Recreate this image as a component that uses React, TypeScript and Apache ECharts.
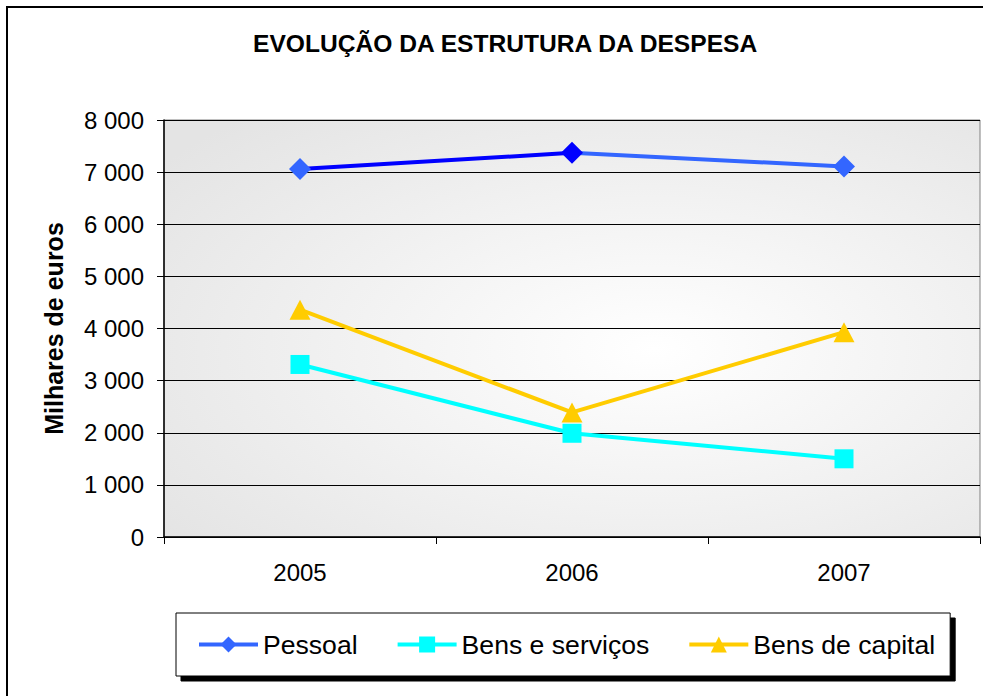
import React, { useEffect, useRef } from "react";
import * as echarts from "echarts";

const categories = ["2005", "2006", "2007"];
const pessoal = [7060, 7370, 7110];
const bensServicos = [3310, 1990, 1500];
const bensCapital = [4360, 2390, 3930];
const seriesNames = ["Pessoal", "Bens e serviços", "Bens de capital"];
const titleText = "EVOLUÇÃO DA ESTRUTURA DA DESPESA";
const yAxisName = "Milhares de euros";

export default function App() {
  const ref = useRef<HTMLDivElement>(null);
  useEffect(() => {
    if (!ref.current) return;
    const chart = echarts.init(ref.current, null, { renderer: "svg" });
    const font = "Arial, 'Liberation Sans', sans-serif";
    const pessoalData = pessoal.map((v, i) => ({
      value: v,
      itemStyle: { color: i === 1 ? "#0000FF" : "#3366FF" },
    }));
    chart.setOption({
      animation: false,
      backgroundColor: "#ffffff",
      textStyle: { fontFamily: font },
      title: {
        text: titleText,
        left: 253,
        top: 31,
        padding: 0,
        textStyle: { fontSize: 24.6, fontWeight: "bold", color: "#000", fontFamily: font },
      },
      graphic: [
        {
          type: "rect",
          z: -10,
          shape: { x: 7, y: 7, width: 1100, height: 1000 },
          style: { fill: "none", stroke: "#000", lineWidth: 2 },
          silent: true,
        },
      ],
      legend: {
        left: 176,
        top: 613,
        orient: "horizontal",
        padding: [18, 15, 18, 21],
        itemWidth: 59,
        itemHeight: 20,
        itemGap: 38,
        borderColor: "#000",
        borderWidth: 1,
        backgroundColor: "#fff",
        shadowColor: "#000",
        shadowBlur: 0,
        shadowOffsetX: 5,
        shadowOffsetY: 5,
        lineStyle: { width: 4 },
        textStyle: { fontSize: 26.6, color: "#000", fontFamily: font },
        data: [
          { name: seriesNames[0], itemStyle: { color: "#3366FF" }, lineStyle: { color: "#3366FF", width: 4 } },
          { name: seriesNames[1] },
          { name: seriesNames[2] },
        ],
      },
      grid: {
        left: 164,
        top: 120,
        right: 3,
        bottom: 159,
        show: true,
        borderColor: "#808080",
        borderWidth: 1,
        backgroundColor: new echarts.graphic.RadialGradient(0.6, 0.55, 0.75, [
          { offset: 0, color: "#ffffff" },
          { offset: 1, color: "#e4e4e4" },
        ]),
      },
      xAxis: {
        type: "category",
        data: categories,
        boundaryGap: true,
        axisLine: { show: true, lineStyle: { color: "#000", width: 1.5 } },
        axisTick: { show: true, length: 7, lineStyle: { color: "#000" } },
        axisLabel: { fontSize: 24, color: "#000", margin: 23, fontFamily: font },
        splitLine: { show: false },
      },
      yAxis: {
        type: "value",
        min: 0,
        max: 8000,
        interval: 1000,
        name: yAxisName,
        nameLocation: "middle",
        nameRotate: 90,
        nameGap: 98,
        nameTextStyle: { fontSize: 25, fontWeight: "bold", color: "#000", fontFamily: font },
        axisLine: { show: true, lineStyle: { color: "#000", width: 1.5 } },
        axisTick: { show: true, length: 7, lineStyle: { color: "#000" } },
        axisLabel: {
          fontSize: 24,
          color: "#000",
          margin: 20,
          fontFamily: font,
          formatter: (v: number) => String(v).replace(/\B(?=(\d{3})+(?!\d))/g, " "),
        },
        splitLine: { show: true, lineStyle: { color: "#000", width: 1 } },
      },
      series: [
        {
          name: seriesNames[0],
          type: "line",
          data: pessoalData,
          symbol: "diamond",
          symbolSize: 22,
          color: "#3366FF",
          lineStyle: {
            width: 4,
            color: new echarts.graphic.LinearGradient(0, 0, 1, 0, [
              { offset: 0, color: "#0000FF" },
              { offset: 0.5, color: "#0000FF" },
              { offset: 0.5, color: "#3366FF" },
              { offset: 1, color: "#3366FF" },
            ]),
          },
          z: 4,
        },
        {
          name: seriesNames[1],
          type: "line",
          data: bensServicos,
          symbol: "rect",
          symbolSize: 19,
          color: "#00FFFF",
          itemStyle: { color: "#00FFFF" },
          lineStyle: { width: 4, color: "#00FFFF" },
          z: 3,
        },
        {
          name: seriesNames[2],
          type: "line",
          data: bensCapital,
          symbol: "triangle",
          symbolSize: [21, 20],
          color: "#FFCC00",
          itemStyle: { color: "#FFCC00" },
          lineStyle: { width: 4, color: "#FFCC00" },
          z: 4,
        },
      ],
    });
    return () => chart.dispose();
  }, []);
  return (
    <div
      ref={ref}
      style={{ position: "fixed", left: 0, top: 0, width: 983, height: 696 }}
    />
  );
}
